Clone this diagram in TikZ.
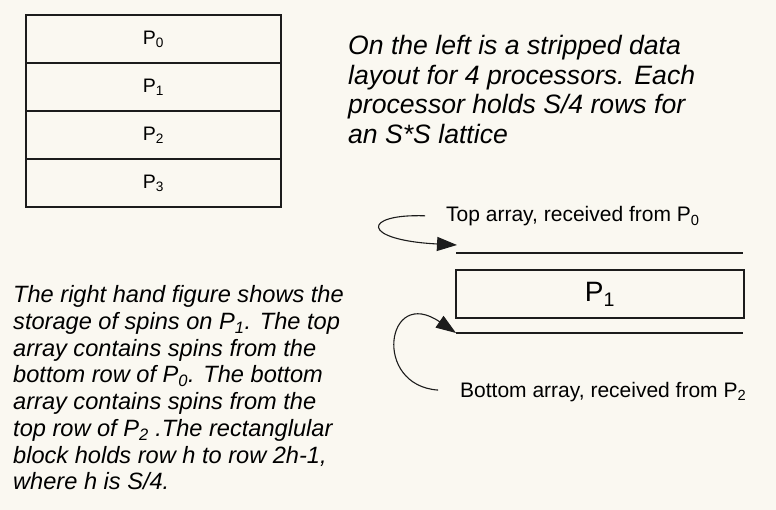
\documentclass[tikz,border=0pt]{standalone}
\usepackage{fontspec}
\setmainfont{Liberation Sans}
\usetikzlibrary{positioning}
\usetikzlibrary{arrows.meta}
\definecolor{paper}{RGB}{250,248,241}
\definecolor{ink}{RGB}{28,28,28}

\tikzset{
  procrow/.style={draw=ink,line width=1.2pt,minimum width=255pt,minimum height=48pt,inner sep=0pt,outer sep=0pt,font=\fontsize{19.5}{22}\selectfont},
  note/.style={align=left,inner sep=0pt,anchor=north west},
  arrlbl/.style={anchor=base west,inner sep=0pt,font=\fontsize{21}{24}\selectfont},
  arrline/.style={ink,line width=1.2pt},
  recv/.style={ink,line width=1.1pt,-{Triangle[length=20pt,width=14pt]}}
}

\begin{document}
\begin{tikzpicture}[x=1pt,y=-1pt]
\fill[paper] (0,0) rectangle (776,510);
\useasboundingbox (0,0) rectangle (776,510);

% striped data layout
\node[procrow] (p0) at (153.5,39) {P\textsubscript{0}};
\node[procrow,below=0pt of p0] (p1) {P\textsubscript{1}};
\node[procrow,below=0pt of p1] (p2) {P\textsubscript{2}};
\node[procrow,below=0pt of p2] (p3) {P\textsubscript{3}};

\node[note,font=\fontsize{26.6}{29.5}\selectfont\itshape] (layout) at (348,35.5)
  {On the left is a stripped data\\layout for 4 processors. Each\\processor holds S/4 rows for\\an S*S lattice};

% storage on P1
\node[draw=ink,line width=1.2pt,minimum width=288pt,minimum height=48pt,outer sep=0pt,
  font=\fontsize{28}{30}\selectfont] (blk) at (600,294) {P\textsubscript{1}};
\coordinate (topw) at (456,253);
\coordinate (tope) at (743,253);
\coordinate (botw) at (456,333);
\coordinate (bote) at (743,333);
\coordinate (topin) at (457,245);
\draw[arrline] (topw) -- (tope);
\draw[arrline] (botw) -- (bote);

\node[arrlbl] (toplbl) at (446,222) {Top array, received from P\textsubscript{0}};
\node[arrlbl] (botlbl) at (460,397) {Bottom array, received from P\textsubscript{2}};

\draw[recv,shorten <=21pt] (toplbl.west) .. controls +(-84,-3) and +(-97,-5) .. (topin);
\draw[recv,shorten <=22pt] (botlbl.west) .. controls +(-88,-6) and +(-70,-48) .. (botw);

\node[note,font=\fontsize{23.6}{26.7}\selectfont\itshape] (storage) at (13,285.5)
  {The right hand figure shows the\\storage of spins on P\textsubscript{1}. The top\\array contains spins from the\\bottom row of P\textsubscript{0}. The bottom\\array contains spins from the\\top row of P\textsubscript{2} .The rectanglular\\block holds row h to row 2h-1,\\where h is S/4.};

\end{tikzpicture}
\end{document}
